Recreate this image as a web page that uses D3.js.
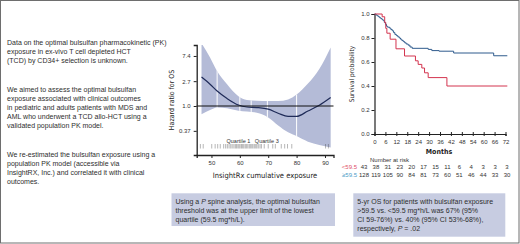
<!DOCTYPE html>
<html>
<head>
<meta charset="utf-8">
<script src="https://cdn.jsdelivr.net/npm/d3@7"></script>
<style>
  body { margin: 0; background: #fff; }
  svg { display: block; font-family: "Liberation Sans", Arial, Helvetica, sans-serif; }
  .narrow { font-family: "Liberation Sans Narrow", "DejaVu Sans Condensed", sans-serif; font-stretch: condensed; }
  .axis text { font-size: 6px; fill: #333; }
  .axis path, .axis line { stroke: #222; }
</style>
</head>
<body>
<svg id="chart" width="520" height="244"></svg>
<script>
// Texte de gauche, un tableau par paragraphe
const introParagraphs = [
  ['Data on the optimal bulsulfan pharmacokinetic (PK)', 'exposure in ex-vivo T cell depleted HCT', '(TCD) by CD34+ selection is unknown.'],
  ['We aimed to assess the optimal bulsulfan', 'exposure associated with clinical outcomes', 'in pediatric and adults patients with MDS and', 'AML who underwent a TCD allo-HCT using a', 'validated population PK model.'],
  ['We re-estimated the bulsulfan exposure using a', 'population PK model (accessible via', 'InsightRX, Inc.) and correlated it with clinical', 'outcomes.']
];

// Spline : exposition vs hazard ratio (IC 95 %)
const splineExposure = [46.5, 49.5, 52, 55.5, 59.5, 62.5, 66, 70, 73.5, 77, 80, 84, 88, 92];
const splineHR = [3.19, 2.39, 1.82, 1.35, 1.04, 0.96, 0.94, 0.88, 0.75, 0.66, 0.66, 0.82, 1.03, 1.40];
const splineLow = [0.72, 0.85, 0.94, 0.91, 0.83, 0.80, 0.76, 0.63, 0.46, 0.35, 0.30, 0.24, 0.21, 0.19];
const splineHigh = [12.3, 6.96, 4.0, 2.39, 1.48, 1.27, 1.23, 1.22, 1.22, 1.30, 1.58, 2.45, 4.4, 10.4];
const splineKnots = [52, 60, 64, 69.7, 80];
const rugExposure = [46.1, 47.1, 50.1, 51.3, 52.2, 53.1, 54.3, 55.0, 55.6, 56.2, 56.8, 57.3, 57.9, 58.4, 58.8,
  59.3, 59.7, 60.1, 60.6, 61.0, 61.4, 61.9, 62.3, 62.8, 63.3, 63.7, 64.2, 64.6, 65.1, 65.6, 66.0, 66.5,
  67.1, 67.6, 68.6, 70.0, 71.6, 72.5, 74.6, 75.8, 76.8, 78.3, 90.2, 91.2];
const exposureTicks = [50, 60, 70, 80, 90];
const hrTicks = [0.37, 1.0, 2.7, 7.4];
const quartiles = [{ label: 'Quartile 1', at: 59.5 }, { label: 'Quartile 3', at: 69.5 }];

// Kaplan-Meier
const monthTicks = [0, 6, 12, 18, 24, 30, 36, 42, 48, 54, 60, 66, 72];
const survivalTicks = [0, 0.2, 0.4, 0.6, 0.8, 1.0];
const lowTime = [0, 4.2, 5.6, 6.2, 6.8, 8.6, 11.8, 16.5, 22.5, 24.0, 26.0, 27.5, 29.5, 39.8, 73];
const lowSurv = [1.0, 0.977, 0.93, 0.88, 0.84, 0.79, 0.71, 0.65, 0.61, 0.58, 0.55, 0.51, 0.47, 0.40, 0.40];
const highTime = [0, 0.8, 1.5, 2.2, 2.8, 3.5, 4.2, 4.8, 5.4, 6.0, 6.6, 7.2, 8.3, 9.0, 9.8, 10.5, 11.2, 12.0,
  12.8, 13.6, 14.3, 15.0, 15.8, 16.6, 17.4, 18.5, 19.5, 20.7, 29.5, 31.5, 35.5, 43.5, 65.5, 73];
const highSurv = [1.0, 0.992, 0.984, 0.977, 0.969, 0.961, 0.953, 0.945, 0.93, 0.914, 0.898, 0.89, 0.882, 0.87,
  0.86, 0.845, 0.83, 0.82, 0.81, 0.80, 0.79, 0.78, 0.77, 0.76, 0.75, 0.74, 0.725, 0.714, 0.705, 0.695, 0.69,
  0.675, 0.652, 0.652];
const riskLow = [43, 38, 31, 23, 20, 17, 15, 11, 6, 4, 3, 3, 3];
const riskHigh = [128, 119, 105, 90, 84, 81, 73, 60, 51, 46, 44, 33, 30];

const captionSpline = ['Using a |P| spine analysis, the optimal bulsulfan', 'threshold was at the upper limit of the lowest', 'quartile (59.5 mg*h/L).'];
const captionKM = ['5-yr OS for patients with bulsulfan exposure', '>59.5 vs. <59.5 mg*h/L was 67% (95%', 'CI 59-76%) vs. 40% (95% CI 53%-68%),', 'respectively, |P| = .02'];

const svg = d3.select('#chart');
const TEXT = '#2e2e2e';

svg.append('rect').attr('x', 0.5).attr('y', 0.5).attr('width', 518.5).attr('height', 242.5)
  .attr('fill', '#fff').attr('stroke', '#6e6e6e');

// ---------- texte de gauche
const introTops = [43, 89.3, 154.5];
introParagraphs.forEach((lines, p) => {
  svg.append('g').selectAll('text').data(lines).join('text')
    .attr('x', 7).attr('y', (d, i) => introTops[p] + i * 9)
    .attr('dy', '0.35em').attr('font-size', 7).attr('fill', TEXT).text((d) => d);
});

// ---------- spline
const xExp = d3.scaleLinear().domain([44.8, 93.0]).range([196.7, 333.5]);
const yHR = d3.scaleLog().domain([Math.exp(-1.96), Math.exp(2.44)]).range([155, 45]);
const spline = splineExposure.map((v, i) => ({ v, hr: splineHR[i], lo: splineLow[i], hi: splineHigh[i] }));

svg.append('clipPath').attr('id', 'splineClip').append('rect')
  .attr('x', xExp.range()[0]).attr('y', 45).attr('width', xExp.range()[1] - xExp.range()[0]).attr('height', 110);
svg.append('clipPath').attr('id', 'bandClip').append('path')
  .attr('d', d3.area().x((d) => xExp(d.v)).y0((d) => yHR(d.lo)).y1((d) => yHR(d.hi)).curve(d3.curveMonotoneX)(spline));

const splineG = svg.append('g').attr('clip-path', 'url(#splineClip)');
splineG.append('path').datum(spline)
  .attr('fill', '#b4bbd7')
  .attr('d', d3.area().x((d) => xExp(d.v)).y0((d) => yHR(d.lo)).y1((d) => yHR(d.hi)).curve(d3.curveMonotoneX));
splineG.append('g').attr('clip-path', 'url(#bandClip)').selectAll('line').data(splineKnots).join('line')
  .attr('x1', (d) => xExp(d)).attr('x2', (d) => xExp(d)).attr('y1', 45).attr('y2', 155)
  .attr('stroke', '#fff').attr('stroke-width', 1);
svg.append('line').attr('x1', xExp.range()[0]).attr('x2', xExp.range()[1])
  .attr('y1', yHR(1)).attr('y2', yHR(1)).attr('stroke', '#111').attr('stroke-width', 1);
splineG.append('path').datum(spline)
  .attr('fill', 'none').attr('stroke', '#1f2b58').attr('stroke-width', 1.2)
  .attr('d', d3.line().x((d) => xExp(d.v)).y((d) => yHR(d.hr)).curve(d3.curveMonotoneX));

svg.append('g').selectAll('line').data(rugExposure).join('line')
  .attr('x1', (d) => xExp(d)).attr('x2', (d) => xExp(d)).attr('y1', 144).attr('y2', 148.5)
  .attr('stroke', '#333').attr('stroke-opacity', 0.45).attr('stroke-width', 0.8);
svg.append('g').selectAll('text').data(quartiles).join('text')
  .attr('x', (d) => xExp(d.at)).attr('y', 141.5).attr('dy', '0.35em').attr('text-anchor', 'middle')
  .attr('font-size', 5.5).attr('fill', '#333').text((d) => d.label);

svg.append('g').attr('class', 'axis').attr('transform', 'translate(0,155)')
  .call(d3.axisBottom(xExp).tickValues(exposureTicks).tickSizeOuter(0).tickSize(3).tickPadding(3))
  .call((g) => g.select('.domain').attr('stroke-width', 1.3));
svg.append('g').attr('class', 'axis').attr('transform', `translate(${xExp.range()[0]},0)`)
  .call(d3.axisLeft(yHR).tickValues(hrTicks).tickSizeOuter(0).tickSize(3).tickPadding(3)
    .tickFormat((d) => (d < 1 ? d.toFixed(2) : d.toFixed(1))))
  .call((g) => g.select('.domain').attr('stroke-width', 1.3));

svg.append('text').attr('class', 'narrow').attr('x', 265).attr('y', 175.5).attr('dy', '0.35em')
  .attr('text-anchor', 'middle').attr('font-size', 7.5).attr('fill', '#222').text('InsightRx cumulative exposure');
svg.append('text').attr('class', 'narrow').attr('transform', 'translate(172,100) rotate(-90)')
  .attr('dy', '0.35em').attr('text-anchor', 'middle').attr('font-size', 7).attr('fill', '#222').text('Hazard ratio for OS');

// ---------- Kaplan-Meier
const xKM = d3.scaleLinear().domain([0, 72]).range([374.5, 505.5]);
const yKM = d3.scaleLinear().domain([0, 1]).range([134, 14]);
const kmLine = d3.line().x((d) => xKM(d[0])).y((d) => yKM(d[1])).curve(d3.curveStepAfter);

svg.append('g').attr('class', 'axis').attr('transform', `translate(${xKM.range()[0]},0)`)
  .call(d3.axisLeft(yKM).tickValues(survivalTicks).tickFormat(d3.format('.1f')).tickSizeOuter(0).tickSize(3).tickPadding(2))
  .call((g) => g.select('.domain').attr('stroke-width', 1.2));
svg.append('g').attr('class', 'axis').attr('transform', `translate(0,${yKM(0)})`)
  .call(d3.axisBottom(xKM).tickValues(monthTicks).tickSizeOuter(0).tickSize(2).tickPadding(4))
  .call((g) => g.select('.domain').attr('stroke-width', 1.2))
  .call((g) => g.selectAll('.tick line').attr('y1', -2));

svg.append('path').datum(highTime.map((t, i) => [t, highSurv[i]]))
  .attr('fill', 'none').attr('stroke', '#2f5b8d').attr('stroke-width', 1).attr('d', kmLine);
svg.append('path').datum(lowTime.map((t, i) => [t, lowSurv[i]]))
  .attr('fill', 'none').attr('stroke', '#d3344f').attr('stroke-width', 1).attr('d', kmLine);

svg.append('text').attr('class', 'narrow').attr('transform', 'translate(352,74) rotate(-90)')
  .attr('dy', '0.35em').attr('text-anchor', 'middle').attr('font-size', 6.5).attr('fill', '#222').text('Survival probability');
svg.append('text').attr('class', 'narrow').attr('x', 439).attr('y', 152).attr('dy', '0.35em')
  .attr('text-anchor', 'middle').attr('font-size', 7).attr('font-weight', 'bold').attr('fill', '#222').text('Months');

const xRisk = d3.scaleLinear().domain([0, 72]).range([364, 507]);
svg.append('text').attr('x', 370).attr('y', 160).attr('dy', '0.35em')
  .attr('font-size', 6).attr('fill', '#333').text('Number at risk');
[{ label: '<59.5', color: '#e0506a', values: riskLow, y: 167.3 },
 { label: '\u226559.5', color: '#4a9cc7', values: riskHigh, y: 175 }].forEach((row) => {
  svg.append('text').attr('x', 357).attr('y', row.y).attr('dy', '0.35em').attr('text-anchor', 'end')
    .attr('font-size', 6).attr('fill', row.color).text(row.label);
  svg.append('g').selectAll('text').data(row.values).join('text')
    .attr('x', (d, i) => xRisk(monthTicks[i])).attr('y', row.y).attr('dy', '0.35em')
    .attr('text-anchor', 'middle').attr('font-size', 6).attr('fill', '#333').text((d) => d);
});

// ---------- encadrés
function caption(x, y, w, h, lines) {
  svg.append('rect').attr('x', x).attr('y', y).attr('width', w).attr('height', h).attr('fill', '#c7cce1');
  lines.forEach((line, i) => {
    const t = svg.append('text').attr('x', x + 4).attr('y', y + 8 + i * 9.2).attr('dy', '0.35em')
      .attr('font-size', 7).attr('fill', TEXT);
    line.split('|').forEach((part, j) => {
      t.append('tspan').attr('font-style', j % 2 ? 'italic' : null).text(part);
    });
  });
}
caption(171.5, 193.3, 163.5, 32.7, captionSpline);
caption(353.3, 193.3, 152, 43.4, captionKM);
</script>
</body>
</html>
